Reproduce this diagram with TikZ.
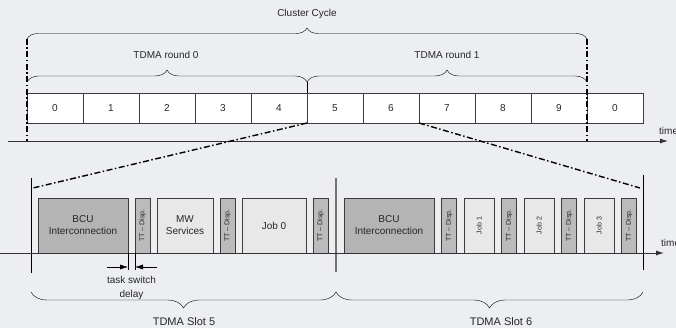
\documentclass[tikz,border=0pt]{standalone}
\usepackage{fontspec}
\setmainfont{Liberation Sans}
\usepackage{graphicx,xcolor}
\usetikzlibrary{positioning,arrows.meta,decorations.pathreplacing,calc}

\definecolor{bgcol}{HTML}{ECEEF2}
\definecolor{bcucol}{HTML}{B4B4B4}
\definecolor{dispcol}{HTML}{BBBBBB}
\definecolor{jobcol}{HTML}{E8E8E8}
\definecolor{edgecol}{HTML}{3C3C3C}

\begin{document}
\begin{tikzpicture}[x=1pt,y=-1pt,node distance=7pt,
  >={Latex[length=8pt,width=5pt]},
  every node/.style={font=\fontsize{10}{12}\selectfont,text=black!85},
  slot/.style={draw=edgecol,fill=white,minimum width=56pt,minimum height=30pt,outer sep=0pt,inner sep=0pt},
  task/.style={draw=edgecol,fill=#1,minimum height=55pt,outer sep=0pt,inner sep=1pt,align=center},
  task/.default=jobcol,
  disp/.style={task=dispcol,minimum width=15pt,font=\fontsize{7}{8}\selectfont},
  jobv/.style={task,minimum width=30pt,font=\fontsize{7}{8}\selectfont},
  dashdot/.style={line width=1.4pt,dash pattern=on 6pt off 2.5pt on 1.5pt off 2.5pt},
  curly/.style={decorate,decoration={brace,amplitude=#1}},
  axis/.style={draw=black!80,line width=0.8pt},
  timelbl/.style={anchor=west,inner sep=0pt}]
\useasboundingbox (0,0) rectangle (676,328);
\fill[bgcol] (0,0) rectangle (676,328);

\foreach \i/\t in {0/0,1/1,2/2,3/3,4/4,5/5,6/6,7/7,8/8,9/9,10/0}
  \node[slot] (s\i) at ({55+56*\i},108) {\t};

\coordinate (t0) at (8,141);
\coordinate (t1) at (668,141);
\draw[axis,->] (t0) -- (t1);
\node[timelbl] (time1) at (659,131) {time};

\coordinate (c0) at (27,39);
\coordinate (c1) at (587,39);
\draw[curly=11] (c0) -- (c1);
\node (cc) at (307,14) {Cluster Cycle};

\coordinate (r0) at (27,82);
\coordinate (r1) at (307,82);
\coordinate (r2) at (587,82);
\draw[curly=12] (r0) -- (r1);
\draw[curly=12] (r1) -- (r2);
\draw (r1) -- (s5.north west);
\node (rd0) at (166,55) {TDMA round 0};
\node (rd1) at (447,55) {TDMA round 1};

\draw[dashdot] (c0) -- (c0 |- t0);
\draw[dashdot] (c1) -- (c1 |- t0);

\coordinate (z0) at (33,188);
\coordinate (z1) at (640,188);
\draw[dashdot] (s4.south east) -- (z0);
\draw[dashdot] (s7.south west) -- (z1);

\coordinate (d0a) at (31,178);
\coordinate (d0b) at (31,273);
\coordinate (d1a) at (336,178);
\coordinate (d1b) at (336,272);
\coordinate (d2a) at (643,175);
\coordinate (d2b) at (643,270);
\draw (d0a) -- (d0b);
\draw[black!55,line width=1.5pt] (d1a) -- (d1b);
\draw (d2a) -- (d2b);

\node[task=bcucol,minimum width=90pt,anchor=west] (bcu5) at (38,225.5) {BCU\\Interconnection};
\node[disp,right=of bcu5] (tt5a) {\rotatebox{90}{TT -- Disp.}};
\node[task,minimum width=56pt,right=of tt5a] (mw) {MW\\Services};
\node[disp,right=of mw] (tt5b) {\rotatebox{90}{TT -- Disp.}};
\node[task,minimum width=64pt,right=of tt5b] (job0) {Job 0};
\node[disp,right=of job0] (tt5c) {\rotatebox{90}{TT -- Disp.}};

\begin{scope}[node distance=7.5pt]
\node[task=bcucol,minimum width=90pt,anchor=west] (bcu6) at (344,225.5) {BCU\\Interconnection};
\node[disp,right=of bcu6] (tt6a) {\rotatebox{90}{TT -- Disp.}};
\node[jobv,right=of tt6a] (job1) {\rotatebox{90}{Job 1}};
\node[disp,right=of job1] (tt6b) {\rotatebox{90}{TT -- Disp.}};
\node[jobv,right=of tt6b] (job2) {\rotatebox{90}{Job 2}};
\node[disp,right=of job2] (tt6c) {\rotatebox{90}{TT -- Disp.}};
\node[jobv,right=of tt6c] (job3) {\rotatebox{90}{Job 3}};
\node[disp,right=of job3] (tt6d) {\rotatebox{90}{TT -- Disp.}};
\end{scope}

\coordinate (u0) at (0,253);
\coordinate (u1) at (664,253);
\draw[axis,->] (u0) -- (u1);
\node[timelbl] (time2) at (661,243) {time};

\coordinate (k0) at ([yshift=-17pt]bcu5.south east);
\coordinate (k1) at ([yshift=-17pt]tt5a.south west);
\draw (bcu5.south east) -- (k0);
\draw (tt5a.south west) -- (k1);
\coordinate (a0) at ([xshift=-21pt,yshift=-14pt]bcu5.south east);
\coordinate (a1) at ([yshift=-14pt]bcu5.south east);
\coordinate (a2) at ([xshift=22pt,yshift=-14pt]tt5a.south west);
\coordinate (a3) at ([yshift=-14pt]tt5a.south west);
\draw[->] (a0) -- (a1);
\draw[->] (a2) -- (a3);
\node[align=center,font=\fontsize{10}{14}\selectfont] (tsd) at (131.5,288) {task switch\\delay};

\coordinate (b0) at (31,292);
\coordinate (b1) at (336,292);
\coordinate (b2) at (643,292);
\draw[curly=16,decoration={mirror}] (b0) -- (b1);
\draw[curly=16,decoration={mirror}] (b1) -- (b2);
\node[font=\fontsize{11}{13}\selectfont] (sl5) at (184,322) {TDMA Slot 5};
\node[font=\fontsize{11}{13}\selectfont] (sl6) at (501,322) {TDMA Slot 6};
\end{tikzpicture}
\end{document}
